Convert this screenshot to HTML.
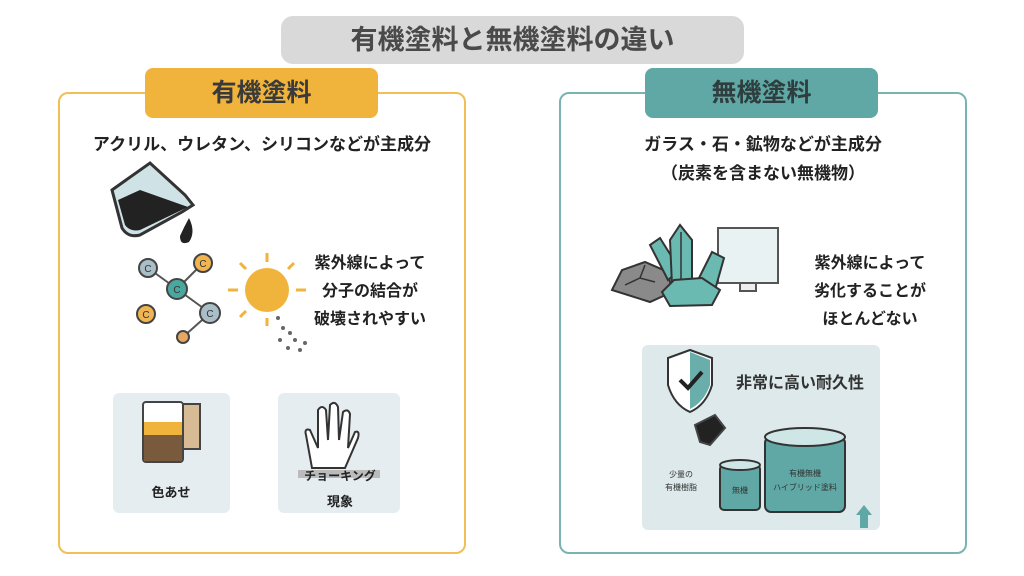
<!DOCTYPE html>
<html><head><meta charset="utf-8"><style>
body{margin:0;width:1024px;height:576px;background:#fff;position:relative;overflow:hidden;font-family:"Liberation Sans","Noto Sans CJK JP",sans-serif;color:#222}
.a{position:absolute}
.t{position:absolute;white-space:nowrap;font-weight:bold}
</style></head><body>
<div class="a" style="left:281px;top:16px;width:463px;height:48px;background:#d9d9d9;border-radius:12px"></div>
<div class="t" style="left:281px;top:16px;width:463px;line-height:48px;text-align:center;font-size:27px;color:#4a4a4a">有機塗料と無機塗料の違い</div>

<div class="a" style="left:58px;top:92px;width:404px;height:458px;border:2px solid #f0bf55;border-radius:10px"></div>
<div class="a" style="left:145px;top:68px;width:233px;height:50px;background:#f0b43c;border-radius:8px"></div>
<div class="t" style="left:145px;top:68px;width:233px;line-height:50px;text-align:center;font-size:25px;color:#3a3a3a">有機塗料</div>

<div class="a" style="left:559px;top:92px;width:404px;height:458px;border:2px solid #7ab4b2;border-radius:10px"></div>
<div class="a" style="left:645px;top:68px;width:233px;height:50px;background:#5fa8a5;border-radius:8px"></div>
<div class="t" style="left:645px;top:68px;width:233px;line-height:50px;text-align:center;font-size:25px;color:#2e3e3e">無機塗料</div>

<div class="t" style="left:60px;top:130px;width:404px;text-align:center;font-size:17px">アクリル、ウレタン、シリコンなどが主成分</div>
<div class="t" style="left:561px;top:130px;width:404px;text-align:center;font-size:17px;line-height:29px">ガラス・石・鉱物などが主成分<br>（炭素を含まない無機物）</div>

<div class="t" style="left:310px;top:250px;width:120px;text-align:center;font-size:16px;line-height:28px">紫外線によって<br>分子の結合が<br>破壊されやすい</div>
<div class="t" style="left:810px;top:250px;width:120px;text-align:center;font-size:16px;line-height:28px">紫外線によって<br>劣化することが<br>ほとんどない</div>

<svg class="a" style="left:0;top:0" width="1024" height="576">
<!-- beaker -->
<path d="M112 190 L150 163 L185 195 L193 205 L182 212 L140 235 Q128 238 122 228 Z" fill="#cfe3e7" stroke="#333" stroke-width="3"/>
<path d="M118 200 L140 190 L188 207 L140 230 Q130 232 125 225 Z" fill="#222"/>
<path d="M189 218 q7 14 0 24 q-9 4 -9 -6 q4 -9 9 -18z" fill="#222"/>
<!-- molecule -->
<g stroke="#555" stroke-width="2">
<line x1="148" y1="268" x2="177" y2="289"/><line x1="203" y1="263" x2="177" y2="289"/><line x1="177" y1="289" x2="210" y2="313"/><line x1="210" y1="313" x2="183" y2="337"/>
</g>
<g stroke="#444" stroke-width="2">
<circle cx="148" cy="268" r="9" fill="#a9bec7"/><circle cx="203" cy="263" r="9" fill="#f0b450"/><circle cx="177" cy="289" r="10" fill="#4aa7a0"/><circle cx="210" cy="313" r="10" fill="#a9bec7"/><circle cx="146" cy="314" r="9" fill="#f0b450"/><circle cx="183" cy="337" r="6" fill="#e6a860"/>
</g>
<g font-size="10" fill="#333" text-anchor="middle" font-family="Liberation Sans"><text x="148" y="272">C</text><text x="203" y="267">C</text><text x="177" y="293">C</text><text x="210" y="317">C</text><text x="146" y="318">C</text></g>
<!-- sun -->
<circle cx="267" cy="290" r="22" fill="#f0b43c"/>
<g stroke="#f0b43c" stroke-width="3"><line x1="267" y1="253" x2="267" y2="262"/><line x1="267" y1="318" x2="267" y2="326"/><line x1="228" y1="290" x2="238" y2="290"/><line x1="296" y1="290" x2="306" y2="290"/><line x1="240" y1="263" x2="246" y2="269"/><line x1="294" y1="263" x2="288" y2="269"/><line x1="240" y1="317" x2="246" y2="311"/></g>
<g fill="#666"><circle cx="278" cy="318" r="2"/><circle cx="283" cy="328" r="2"/><circle cx="290" cy="333" r="2"/><circle cx="280" cy="340" r="2"/><circle cx="295" cy="340" r="2"/><circle cx="288" cy="348" r="2"/><circle cx="300" cy="350" r="2"/><circle cx="305" cy="343" r="2"/></g>
<!-- boxes -->
<rect x="113" y="393" width="117" height="120" rx="6" fill="#e5edf0"/>
<rect x="278" y="393" width="122" height="120" rx="6" fill="#e5edf0"/>
<rect x="180" y="404" width="20" height="45" fill="#d6bb95" stroke="#444" stroke-width="2"/>
<rect x="143" y="402" width="40" height="60" rx="3" fill="#fff" stroke="#444" stroke-width="2"/>
<rect x="144" y="422" width="38" height="13" fill="#f0b43c"/><rect x="144" y="435" width="38" height="26" fill="#7a5a3c"/>
<path d="M312 468 L306 435 Q304 428 310 430 L318 448 L318 410 Q322 404 326 410 L328 440 L330 405 Q335 400 338 407 L339 440 L343 412 Q348 408 350 414 L348 448 L355 432 Q360 430 358 438 L345 468 Z" fill="#fff" stroke="#333" stroke-width="2"/>
<rect x="298" y="470" width="82" height="8" fill="#bbb"/>
<text x="340" y="480" font-size="12" font-weight="bold" text-anchor="middle" fill="#222" font-family="Liberation Sans, Noto Sans CJK JP">チョーキング</text>
<text x="171" y="497" font-size="13" font-weight="bold" text-anchor="middle" fill="#222" font-family="Liberation Sans, Noto Sans CJK JP">色あせ</text>
<text x="340" y="506" font-size="13" font-weight="bold" text-anchor="middle" fill="#222" font-family="Liberation Sans, Noto Sans CJK JP">現象</text>
<!-- right: rock crystals -->
<rect x="718" y="228" width="60" height="55" fill="#e8f2f3" stroke="#555" stroke-width="2"/>
<rect x="740" y="283" width="16" height="8" fill="#eee" stroke="#555" stroke-width="2"/>
<path d="M612 290 L622 270 L645 262 L668 272 L672 292 L650 302 Z" fill="#8a8a8a" stroke="#333" stroke-width="2"/>
<path d="M625 285 L640 278 L655 282 M640 278 L645 265" stroke="#333" stroke-width="1.5" fill="none"/>
<path d="M650 245 L660 238 L680 270 L668 280 Z" fill="#6bbab2" stroke="#333" stroke-width="2"/>
<path d="M670 240 L680 225 L692 240 L692 285 L672 285 Z" fill="#6bbab2" stroke="#333" stroke-width="2"/>
<line x1="681" y1="232" x2="681" y2="285" stroke="#333" stroke-width="1.5"/>
<path d="M698 280 L712 252 L724 258 L715 290 Z" fill="#6bbab2" stroke="#333" stroke-width="2"/>
<path d="M662 292 L674 280 L702 278 L720 290 L712 305 L670 306 Z" fill="#6bbab2" stroke="#333" stroke-width="2"/>
<!-- lower box -->
<rect x="642" y="345" width="238" height="185" rx="6" fill="#dde9ea"/>
<path d="M668 358 L690 350 L712 358 L712 385 Q706 405 690 412 Q674 405 668 385 Z" fill="#fff" stroke="#333" stroke-width="2"/>
<path d="M690 352 L710 360 L710 385 Q704 402 690 409 Z" fill="#6aaeab"/>
<path d="M680 380 L688 388 L702 372" stroke="#222" stroke-width="4" fill="none"/>
<text x="800" y="388" font-size="16" font-weight="bold" text-anchor="middle" fill="#333" font-family="Liberation Sans, Noto Sans CJK JP">非常に高い耐久性</text>
<path d="M695 425 L715 415 L725 428 L710 445 L700 442 Z" fill="#222" stroke="#444" stroke-width="2"/>
<rect x="720" y="465" width="40" height="45" rx="4" fill="#5fa8a5" stroke="#333" stroke-width="2"/>
<ellipse cx="740" cy="465" rx="20" ry="5" fill="#cfe6e6" stroke="#333" stroke-width="2"/>
<rect x="765" y="437" width="80" height="75" rx="6" fill="#5fa8a5" stroke="#333" stroke-width="2"/>
<ellipse cx="805" cy="437" rx="40" ry="9" fill="#cfe6e6" stroke="#333" stroke-width="2"/>
<g font-size="8" fill="#333" text-anchor="middle" font-family="Liberation Sans, Noto Sans CJK JP">
<text x="681" y="477">少量の</text><text x="681" y="490">有機樹脂</text><text x="740" y="493">無機</text><text x="805" y="476">有機無機</text><text x="805" y="490">ハイブリッド塗料</text></g>
<path d="M856 515 L864 505 L872 515 L868 515 L868 528 L860 528 L860 515 Z" fill="#5fa8a5"/>
</svg>
</body></html>
